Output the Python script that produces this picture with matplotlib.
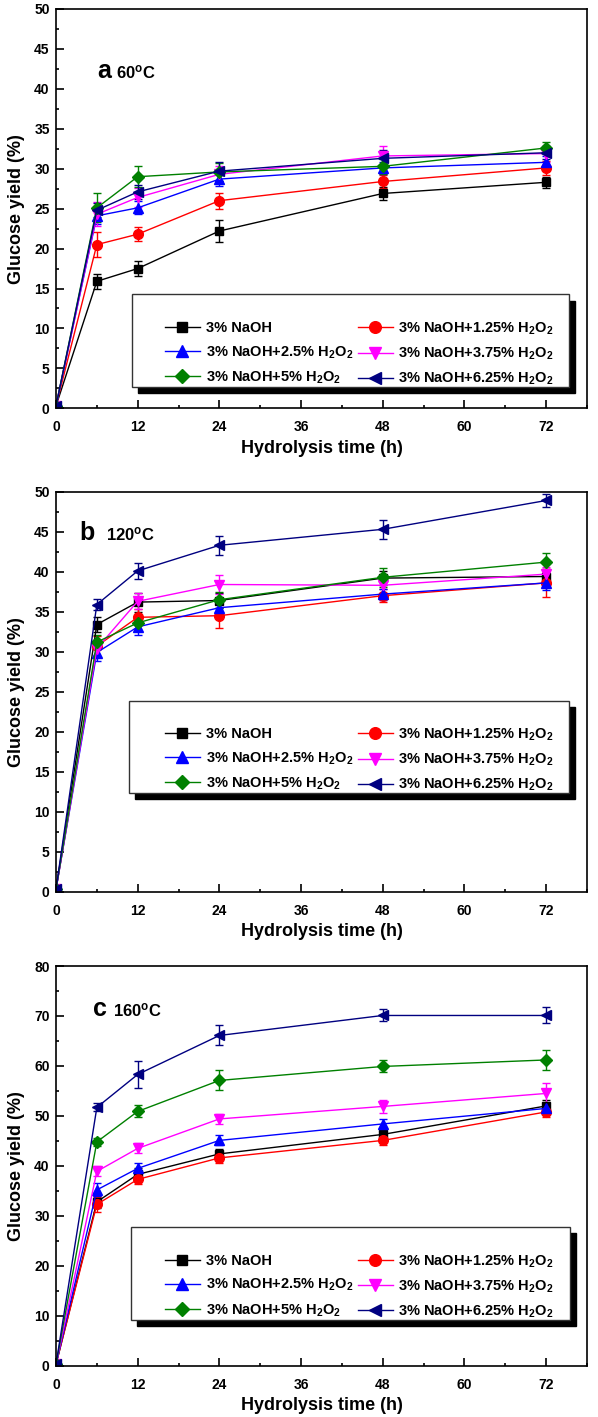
import matplotlib
matplotlib.use("Agg")
import matplotlib.pyplot as plt
from matplotlib.lines import Line2D
from matplotlib.patches import Rectangle
from matplotlib.ticker import MultipleLocator

plt.rcParams['font.family'] = ['Liberation Sans', 'DejaVu Sans']
plt.rcParams['font.weight'] = 'bold'
plt.rcParams['mathtext.fontset'] = 'custom'
plt.rcParams['mathtext.rm'] = 'Liberation Sans:bold'
plt.rcParams['mathtext.bf'] = 'Liberation Sans:bold'
plt.rcParams['mathtext.it'] = 'Liberation Sans:bold'
plt.rcParams['mathtext.default'] = 'bf'

# ---------------- data ----------------
time_h = [0, 6, 12, 24, 48, 72]

series_labels = ['3% NaOH', '3% NaOH+1.25% H$_2$O$_2$', '3% NaOH+2.5% H$_2$O$_2$',
                 '3% NaOH+3.75% H$_2$O$_2$', '3% NaOH+5% H$_2$O$_2$', '3% NaOH+6.25% H$_2$O$_2$']
series_colors = ['#000000', '#FF0000', '#0000FF', '#FF00FF', '#008000', '#000080']
series_markers = ['s', 'o', '^', 'v', 'D', '<']

# panel a : 60 C
a_naoh   = [0.3, 15.9, 17.5, 22.2, 26.9, 28.3]
a_h125   = [0.3, 20.5, 21.8, 26.0, 28.4, 30.1]
a_h25    = [0.3, 24.1, 25.1, 28.7, 30.1, 30.8]
a_h375   = [0.3, 24.3, 26.4, 29.3, 31.6, 31.9]
a_h5     = [0.3, 25.1, 29.0, 29.6, 30.3, 32.6]
a_h625   = [0.3, 24.8, 27.1, 29.7, 31.3, 32.0]
a_err = [[0.2, 0.9, 0.9, 1.4, 0.8, 0.7],
         [0.2, 1.6, 0.9, 1.0, 0.8, 0.9],
         [0.2, 1.0, 0.8, 0.9, 0.8, 0.8],
         [0.2, 1.5, 1.2, 1.0, 1.2, 1.0],
         [0.2, 1.8, 1.3, 1.1, 0.9, 0.8],
         [0.2, 0.9, 0.9, 1.2, 1.0, 0.8]]

# panel b : 120 C
b_naoh   = [0.3, 33.4, 36.2, 36.4, 39.2, 39.4]
b_h125   = [0.3, 30.7, 34.3, 34.5, 37.0, 38.6]
b_h25    = [0.3, 29.9, 33.1, 35.5, 37.2, 38.6]
b_h375   = [0.3, 30.4, 36.3, 38.4, 38.3, 39.7]
b_h5     = [0.3, 31.2, 33.6, 36.5, 39.3, 41.2]
b_h625   = [0.3, 35.9, 40.1, 43.3, 45.3, 48.9]
b_err = [[0.2, 0.9, 1.2, 0.9, 0.9, 1.0],
         [0.2, 1.3, 1.0, 1.5, 0.8, 1.8],
         [0.2, 1.0, 1.0, 0.9, 0.7, 0.9],
         [0.2, 1.1, 1.0, 1.2, 0.9, 0.9],
         [0.2, 0.9, 1.0, 1.0, 1.2, 1.2],
         [0.2, 0.7, 1.0, 1.2, 1.2, 0.8]]

# panel c : 160 C
c_naoh   = [0.3, 32.8, 38.3, 42.4, 46.3, 52.0]
c_h125   = [0.3, 32.3, 37.3, 41.6, 45.1, 50.8]
c_h25    = [0.3, 35.2, 39.5, 45.1, 48.4, 51.5]
c_h375   = [0.3, 38.9, 43.5, 49.4, 51.9, 54.5]
c_h5     = [0.3, 44.8, 50.9, 57.1, 59.9, 61.2]
c_h625   = [0.3, 51.7, 58.3, 66.1, 70.1, 70.1]
c_err = [[0.2, 1.2, 1.2, 1.0, 1.2, 1.2],
         [0.2, 1.5, 1.0, 1.0, 1.0, 1.0],
         [0.2, 1.3, 1.0, 1.0, 1.0, 1.0],
         [0.2, 1.0, 1.0, 1.0, 1.3, 2.0],
         [0.2, 0.8, 1.2, 2.0, 1.2, 2.0],
         [0.2, 0.8, 2.7, 2.0, 1.2, 1.6]]

panel_letters = ['a', 'b', 'c']
panel_temps = ['60$^{\\mathrm{o}}$C', '120$^{\\mathrm{o}}$C', '160$^{\\mathrm{o}}$C']
y_maxes = [50, 50, 80]
y_major = [5, 5, 10]
y_minor = [2.5, 2.5, 5]
x_ticks = [0, 12, 24, 36, 48, 60, 72]

panels_values = [[a_naoh, a_h125, a_h25, a_h375, a_h5, a_h625],
                 [b_naoh, b_h125, b_h25, b_h375, b_h5, b_h625],
                 [c_naoh, c_h125, c_h25, c_h375, c_h5, c_h625]]
panels_err = [a_err, b_err, c_err]

# ---------------- layout (pixels) ----------------
W, H = 598, 1417
fig = plt.figure(figsize=(W / 100, H / 100), dpi=100)

axes_px = [(56, 587, 9, 408.3), (56, 587, 491.7, 891.7), (56, 587, 966, 1365.8)]
legend_px = [(132, 569.5, 294.5, 387.3), (129, 569, 700.5, 793.1), (130.6, 569.6, 1227.2, 1319.8)]
letter_pos = [(6.0, 41.3, 19), (3.5, 43.9, 26), (5.4, 70.0, 20)]

ms = {'s': 6.2, 'o': 7.0, '^': 7.2, 'v': 7.2, 'D': 6.2, '<': 7.2}

for i in range(3):
    l, r, t, b = axes_px[i]
    ax = fig.add_axes([l / W, 1 - b / H, (r - l) / W, (b - t) / H])
    for j in range(6):
        ax.errorbar(time_h, panels_values[i][j], yerr=panels_err[i][j],
                    color=series_colors[j], marker=series_markers[j],
                    ms=ms[series_markers[j]], mfc=series_colors[j], mec=series_colors[j],
                    lw=1.0, elinewidth=1.0, capsize=3, capthick=1.0)
    ax.set_xlim(0, 78)
    ax.set_ylim(0, y_maxes[i])
    ax.set_xticks(x_ticks)
    ax.xaxis.set_minor_locator(MultipleLocator(6))
    ax.yaxis.set_major_locator(MultipleLocator(y_major[i]))
    ax.yaxis.set_minor_locator(MultipleLocator(y_minor[i]))
    ax.tick_params(which='both', direction='in', top=False, right=False, width=1.2)
    ax.tick_params(which='major', length=5.5)
    ax.tick_params(which='minor', length=2.5)
    ax.tick_params(axis='x', pad=8.5, labelsize=10)
    ax.tick_params(axis='y', pad=4.5, labelsize=10)
    for sp in ax.spines.values():
        sp.set_linewidth(1.2)
    ax.set_xlabel('Hydrolysis time (h)', fontsize=13, fontweight='bold', labelpad=4)
    ax.set_ylabel('Glucose yield (%)', fontsize=13, fontweight='bold')
    ax.yaxis.set_label_coords((25 - l) / (r - l), 0.5)

    # panel label
    lx, ly, off = letter_pos[i]
    ax.text(lx, ly, panel_letters[i], fontsize=18, fontweight='bold', ha='left', va='baseline')
    ax.annotate(panel_temps[i], xy=(lx, ly), xytext=(off, 0), textcoords='offset pixels',
                fontsize=12, fontweight='bold', ha='left', va='baseline')

    # legend frame + shadow
    def to_ax(px, py):
        return ((px - l) / (r - l), (b - py) / (b - t))
    L0, L1, T0, B0 = legend_px[i]
    x0, y0 = to_ax(L0, B0)
    x1, y1 = to_ax(L1, T0)
    sx0, sy0 = to_ax(L0 + 6, B0 + 6)
    ax.add_patch(Rectangle((sx0, sy0), x1 - x0, y1 - y0, transform=ax.transAxes,
                           facecolor='black', edgecolor='black', zorder=3.9, clip_on=False))
    ax.add_patch(Rectangle((x0, y0), x1 - x0, y1 - y0, transform=ax.transAxes,
                           facecolor='white', edgecolor='#333333', lw=1.0, zorder=4, clip_on=False))
    handles = [Line2D([], [], color=series_colors[j], marker=series_markers[j],
                      ms=ms[series_markers[j]] * 1.2, lw=1.0) for j in range(6)]
    order = [0, 2, 4, 1, 3, 5]
    ax_x, ax_y = to_ax(165, T0 + 26)
    leg = ax.legend([handles[k] for k in order], [series_labels[k] for k in order],
                    ncol=2, frameon=False, loc='upper left', bbox_to_anchor=(ax_x, ax_y),
                    bbox_transform=ax.transAxes, borderpad=0, borderaxespad=0,
                    handlelength=2.4, handletextpad=0.4, columnspacing=0.3,
                    labelspacing=0.6, prop={'size': 10.5, 'weight': 'bold'})
    leg.set_zorder(5)

fig.savefig('out.png', dpi=100)
